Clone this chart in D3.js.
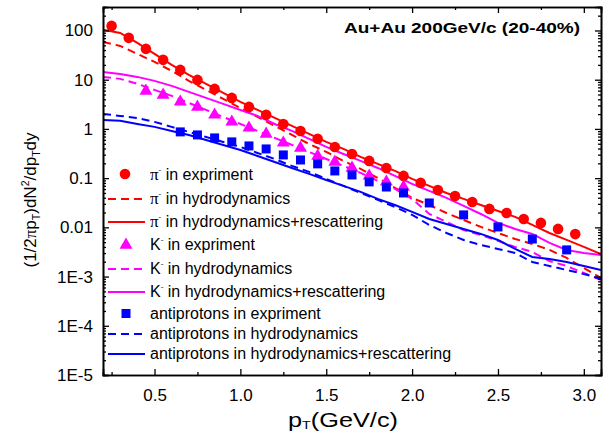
<!DOCTYPE html>
<html>
<head>
<meta charset="utf-8">
<script src="https://cdn.jsdelivr.net/npm/d3@7"></script>
<style>
  body { margin: 0; background: #fff; }
  svg { display: block; font-family: "Liberation Sans", Arial, sans-serif; }
</style>
</head>
<body>
<svg width="609" height="436"></svg>
<script>
// pT grid of the model curves
const ptLine = [0.2, 0.3, 0.4, 0.5, 0.6, 0.7, 0.8, 0.9, 1.0, 1.1, 1.2, 1.3, 1.4, 1.5, 1.6,
                1.7, 1.8, 1.9, 2.0, 2.1, 2.2, 2.3, 2.4, 2.5, 2.6, 2.7, 2.8, 2.9, 3.0, 3.1];

// experiment points
const ptPion = [0.25, 0.35, 0.45, 0.55, 0.65, 0.75, 0.85, 0.95, 1.05, 1.15, 1.25, 1.35, 1.45, 1.55,
                1.65, 1.75, 1.85, 1.95, 2.05, 2.15, 2.25, 2.35, 2.45, 2.55, 2.65, 2.75, 2.85, 2.95];
const pionExp = [124, 70.8, 42.3, 25.3, 15.8, 9.9, 6.5, 4.27, 2.80, 1.93, 1.26, 0.91, 0.63, 0.43,
                 0.31, 0.224, 0.161, 0.111, 0.080, 0.0575, 0.0435, 0.0328, 0.0237, 0.0196, 0.0148, 0.0123, 0.0093, 0.0073];

const ptKaon = [0.45, 0.55, 0.65, 0.75, 0.85, 0.95, 1.05, 1.15, 1.25, 1.35, 1.45, 1.55, 1.65, 1.75, 1.85, 1.95];
const kaonExp = [5.92, 4.91, 3.54, 2.80, 1.93, 1.39, 1.05, 0.79, 0.52, 0.41, 0.28, 0.213, 0.161, 0.111, 0.084, 0.066];

const ptPbar = [0.65, 0.75, 0.85, 0.95, 1.05, 1.15, 1.25, 1.35, 1.45, 1.55, 1.65, 1.75, 1.85, 1.95,
                2.1, 2.3, 2.5, 2.7, 2.9];
const pbarExp = [0.87, 0.755, 0.656, 0.545, 0.451, 0.392, 0.296, 0.234, 0.195, 0.140, 0.116, 0.084, 0.066, 0.050,
                 0.0313, 0.0179, 0.0102, 0.0058, 0.00348];

// model curves
const pionHydro = [58.6, 48.6, 33.4, 23.0, 15.1, 9.46, 6.21, 4.07, 2.67, 1.75, 1.15, 0.755, 0.495, 0.341, 0.224,
                   0.154, 0.101, 0.0632, 0.0396, 0.0285, 0.0196, 0.0141, 0.0102, 0.00769, 0.00581, 0.00460, 0.00348, 0.00239, 0.00150, 0.000937];
const pionResc = [103, 89.3, 56.0, 33.4, 20.0, 12.5, 8.22, 5.40, 3.54, 2.43, 1.67, 1.15, 0.791, 0.544, 0.393,
                  0.270, 0.195, 0.140, 0.0964, 0.0695, 0.0500, 0.0378, 0.0285, 0.0215, 0.0163, 0.0112, 0.00769, 0.00555, 0.00400, 0.00288];
const kaonHydro = [11.4, 10.4, 8.22, 6.21, 4.69, 3.38, 2.43, 1.75, 1.26, 0.910, 0.656, 0.473, 0.341, 0.245, 0.177,
                   0.128, 0.0877, 0.0604, 0.0378, 0.0187, 0.0129, 0.00885, 0.00701, 0.00530, 0.00400, 0.00316, 0.00207, 0.00164, 0.00118, 0.000853];
const kaonResc = [14.4, 13.1, 11.4, 9.46, 7.48, 5.65, 4.27, 3.22, 2.43, 1.84, 1.26, 0.910, 0.627, 0.431, 0.310,
                  0.224, 0.161, 0.111, 0.0762, 0.0550, 0.0396, 0.0272, 0.0187, 0.0123, 0.00929, 0.00735, 0.00482, 0.00348, 0.00302, 0.00275];
const pbarHydro = [2.02, 1.84, 1.67, 1.39, 1.10, 0.869, 0.687, 0.544, 0.431, 0.325, 0.245, 0.177, 0.134, 0.0964, 0.0695,
                   0.0500, 0.0361, 0.0260, 0.0179, 0.0112, 0.00769, 0.00555, 0.00439, 0.00364, 0.00302, 0.00198, 0.00164, 0.00136, 0.00113, 0.000893];
const pbarResc = [1.52, 1.46, 1.26, 1.10, 0.910, 0.755, 0.597, 0.473, 0.374, 0.282, 0.213, 0.161, 0.122, 0.0918, 0.0695,
                  0.0525, 0.0378, 0.0285, 0.0206, 0.0148, 0.0117, 0.00929, 0.00735, 0.00555, 0.00364, 0.00250, 0.00228, 0.00198, 0.00164, 0.00136];

const xTicks = [0.5, 1.0, 1.5, 2.0, 2.5, 3.0];
const xMinor = [0.25, 0.75, 1.25, 1.75, 2.25, 2.75];
const yTicks = [1e-5, 1e-4, 1e-3, 0.01, 0.1, 1, 10, 100];
const yLabels = ["1E-5", "1E-4", "1E-3", "0.01", "0.1", "1", "10", "100"];

const RED = "#ff0000", MAG = "#ff00ff", BLUE = "#0000ff";
const SERIF = "Liberation Serif, Times New Roman, serif";

const svg = d3.select("svg");
const mLeft = 103, mRight = 601, mTop = 7, mBottom = 375;

const x = d3.scaleLinear().domain([0.2, 3.1]).range([mLeft, mRight]);
const y = d3.scaleLog().domain([1e-5, 300]).range([mBottom, mTop]);

// stretch a text horizontally to a given width (the original art is wide)
const stretchTo = (sel, w) => {
    const b = sel.node().getBBox();
    const k = w / b.width, cx = b.x + b.width / 2;
    sel.attr("transform", `translate(${cx},0) scale(${k},1) translate(${-cx},0)`);
};

// clip for curves
svg.append("clipPath").attr("id", "plot")
    .append("rect").attr("x", mLeft).attr("y", mTop).attr("width", mRight - mLeft).attr("height", mBottom - mTop);

const plot = svg.append("g").attr("clip-path", "url(#plot)");

const line = d3.line().x((d, i) => x(ptLine[i])).y(d => y(d));

const curves = [
    { v: pionHydro, c: RED, dash: "8,5" },
    { v: pionResc, c: RED, dash: null },
    { v: kaonHydro, c: MAG, dash: "8,5" },
    { v: kaonResc, c: MAG, dash: null },
    { v: pbarHydro, c: BLUE, dash: "8,5" },
    { v: pbarResc, c: BLUE, dash: null }
];

curves.forEach(cv => {
    plot.append("path")
        .attr("d", line(cv.v))
        .attr("fill", "none")
        .attr("stroke", cv.c)
        .attr("stroke-width", 2)
        .attr("stroke-dasharray", cv.dash);
});

// markers
const tri = d3.symbol().type(d3.symbolTriangle).size(72);
plot.selectAll(".pi").data(pionExp).join("circle")
    .attr("cx", (d, i) => x(ptPion[i])).attr("cy", d => y(d))
    .attr("r", 5.3).attr("fill", RED);
plot.selectAll(".ka").data(kaonExp).join("path")
    .attr("d", tri)
    .attr("transform", (d, i) => `translate(${x(ptKaon[i])},${y(d)})`)
    .attr("fill", MAG);
plot.selectAll(".pb").data(pbarExp).join("rect")
    .attr("x", (d, i) => x(ptPbar[i]) - 4.5).attr("y", d => y(d) - 4.5)
    .attr("width", 9).attr("height", 9).attr("fill", BLUE);

// axes
const axisStyle = g => {
    g.select(".domain").attr("stroke", "#000").attr("stroke-width", 1.6);
    g.selectAll(".tick line").attr("stroke", "#000").attr("stroke-width", 1.3);
    g.selectAll("text").attr("font-size", 17).attr("fill", "#000").attr("font-family", "Liberation Sans, Arial, sans-serif");
};

svg.append("g").attr("transform", `translate(0,${mBottom})`)
    .call(d3.axisBottom(x).tickValues(xTicks).tickSize(-6).tickPadding(14).tickFormat(d3.format(".1f")))
    .call(axisStyle);
svg.append("g").attr("transform", `translate(0,${mBottom})`)
    .call(d3.axisBottom(x).tickValues(xMinor).tickSize(-3).tickFormat(""))
    .call(axisStyle);
svg.append("g").attr("transform", `translate(0,${mTop})`)
    .call(d3.axisTop(x).tickValues(xTicks).tickSize(-6).tickFormat(""))
    .call(axisStyle);
svg.append("g").attr("transform", `translate(0,${mTop})`)
    .call(d3.axisTop(x).tickValues(xMinor).tickSize(-3).tickFormat(""))
    .call(axisStyle);

const yMinor = [];
yTicks.forEach(t => { for (let k = 2; k <= 9; k++) if (t * k <= 300) yMinor.push(t * k); });

svg.append("g").attr("transform", `translate(${mLeft},0)`)
    .call(d3.axisLeft(y).tickValues(yTicks).tickSize(-6).tickPadding(10).tickFormat((d, i) => yLabels[i]))
    .call(axisStyle);
svg.append("g").attr("transform", `translate(${mLeft},0)`)
    .call(d3.axisLeft(y).tickValues(yMinor).tickSize(-3).tickFormat(""))
    .call(axisStyle);
svg.append("g").attr("transform", `translate(${mRight},0)`)
    .call(d3.axisRight(y).tickValues(yTicks).tickSize(-6).tickFormat(""))
    .call(axisStyle);
svg.append("g").attr("transform", `translate(${mRight},0)`)
    .call(d3.axisRight(y).tickValues(yMinor).tickSize(-3).tickFormat(""))
    .call(axisStyle);

// axis titles
const xt = svg.append("text").attr("x", 343).attr("y", 427).attr("text-anchor", "middle")
    .attr("font-size", 19.5);
xt.append("tspan").text("p");
xt.append("tspan").attr("font-size", 11).attr("dy", 2).text("T");
xt.append("tspan").attr("dy", -2).text("(GeV/c)");
stretchTo(xt, 110);

const yt = svg.append("text").attr("transform", "translate(36,200) rotate(-90)")
    .attr("text-anchor", "middle").attr("font-size", 17);
yt.append("tspan").text("(1/2");
yt.append("tspan").attr("font-family", SERIF).text("π");
yt.append("tspan").text("p");
yt.append("tspan").attr("font-size", 10.5).attr("dy", 4).text("T");
yt.append("tspan").attr("dy", -4).text(")dN");
yt.append("tspan").attr("font-size", 10.5).attr("dy", -7).text("2");
yt.append("tspan").attr("dy", 7).text("/dp");
yt.append("tspan").attr("font-size", 10.5).attr("dy", 4).text("T");
yt.append("tspan").attr("dy", -4).text("dy");

// title
svg.append("text").attr("x", 580).attr("y", 33).attr("text-anchor", "end")
    .attr("font-size", 15).attr("font-weight", "bold")
    .attr("textLength", 236).attr("lengthAdjust", "spacingAndGlyphs")
    .text("Au+Au 200GeV/c (20-40%)");

// legend
const legend = [
    { y: 175, kind: "circle", c: RED, p: "π", t: " in expriment" },
    { y: 199, kind: "dash", c: RED, p: "π", t: " in hydrodynamics" },
    { y: 222, kind: "line", c: RED, p: "π", t: " in hydrodynamics+rescattering" },
    { y: 245, kind: "tri", c: MAG, p: "K", t: " in expriment" },
    { y: 269, kind: "dash", c: MAG, p: "K", t: " in hydrodynamics" },
    { y: 292, kind: "line", c: MAG, p: "K", t: " in hydrodynamics+rescattering" },
    { y: 314, kind: "rect", c: BLUE, p: "", t: "antiprotons in expriment" },
    { y: 334, kind: "dash", c: BLUE, p: "", t: "antiprotons in hydrodynamics" },
    { y: 354, kind: "line", c: BLUE, p: "", t: "antiprotons in hydrodynamics+rescattering" }
];
const lg = svg.append("g");
legend.forEach(e => {
    if (e.kind === "circle") lg.append("circle").attr("cx", 125).attr("cy", e.y - 1).attr("r", 5.3).attr("fill", e.c);
    if (e.kind === "tri") lg.append("path").attr("d", tri).attr("transform", `translate(126,${e.y})`).attr("fill", e.c);
    if (e.kind === "rect") lg.append("rect").attr("x", 121.5).attr("y", e.y - 5).attr("width", 9).attr("height", 9).attr("fill", e.c);
    if (e.kind === "dash" || e.kind === "line") {
        lg.append("line").attr("x1", 108).attr("x2", 145).attr("y1", e.y).attr("y2", e.y)
            .attr("stroke", e.c).attr("stroke-width", 2)
            .attr("stroke-dasharray", e.kind === "dash" ? "8,5" : null);
    }
    const t = lg.append("text").attr("x", 150).attr("y", e.y + 5).attr("font-size", 16);
    if (e.p) {
        t.append("tspan").attr("font-family", e.p === "π" ? SERIF : null)
            .attr("font-size", e.p === "π" ? 17 : 16).text(e.p);
        t.append("tspan").attr("font-size", 8).attr("dy", -8).text("-");
        t.append("tspan").attr("dy", 8).text(e.t);
    } else {
        t.text(e.t);
    }
});
</script>
</body>
</html>
